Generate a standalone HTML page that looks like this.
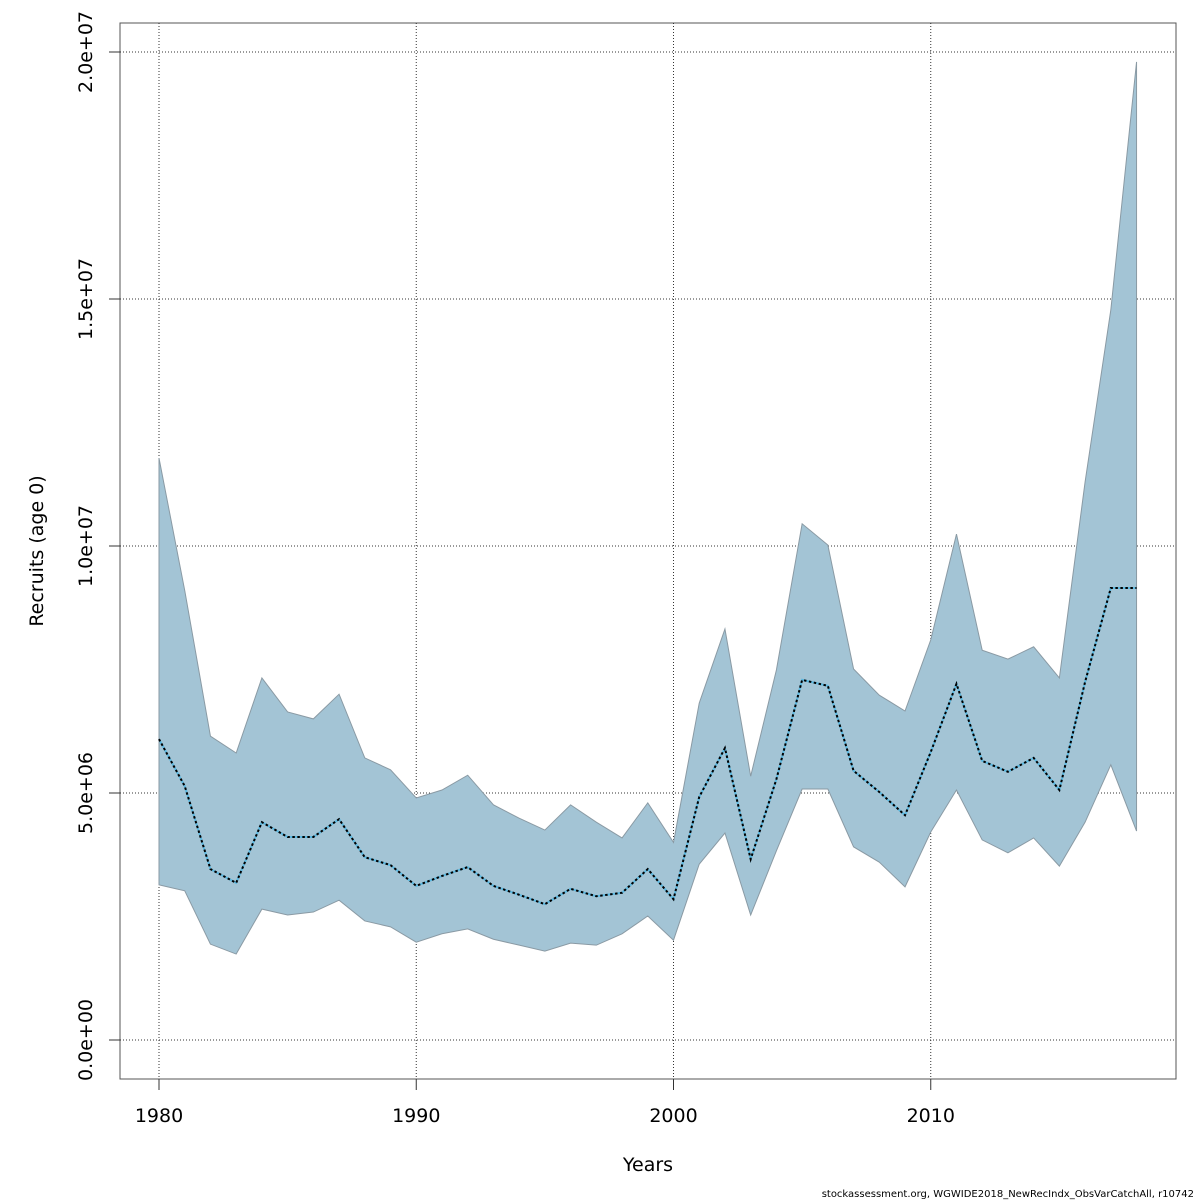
<!DOCTYPE html>
<html><head><meta charset="utf-8"><style>
body{margin:0;background:#fff;}
svg{display:block;font-family:"DejaVu Sans","Liberation Sans",sans-serif;}
</style></head><body>
<svg id="chart" width="1200" height="1200">
<rect x="120" y="23" width="1056" height="1056" fill="none" stroke="#555" stroke-width="1"/>
<g id="grid"></g>
<path id="band" fill="#a3c4d5" stroke="#8a9aa4" stroke-width="1"/>
<path id="lineBg" fill="none" stroke="#5bb8e0" stroke-width="2"/>
<path id="line" fill="none" stroke="#000" stroke-width="2" stroke-dasharray="2.5,2.5"/>
<g id="axes"></g>
<text x="648" y="1171" font-size="19" text-anchor="middle">Years</text>
<text transform="translate(43,551) rotate(-90)" font-size="19" text-anchor="middle">Recruits (age 0)</text>
<text x="1194" y="1197" font-size="10" text-anchor="end">stockassessment.org, WGWIDE2018_NewRecIndx_ObsVarCatchAll, r10742</text>
</svg>
<script>
const years=[];for(let y=1980;y<=2018;y++)years.push(y);
const upper=[11.78,9.1,6.15,5.81,7.33,6.64,6.5,7.0,5.71,5.47,4.9,5.06,5.36,4.76,4.49,4.25,4.76,4.41,4.09,4.8,4.0,6.82,8.32,5.34,7.49,10.45,10.02,7.51,6.98,6.66,8.1,10.24,7.89,7.71,7.96,7.33,11.3,14.78,19.8];
const mid=[6.09,5.14,3.46,3.18,4.41,4.11,4.11,4.47,3.7,3.54,3.12,3.32,3.5,3.12,2.94,2.75,3.06,2.91,2.98,3.46,2.85,4.92,5.91,3.66,5.28,7.29,7.17,5.45,5.02,4.55,5.83,7.21,5.65,5.43,5.71,5.06,7.25,9.15,9.15];
const lower=[3.14,3.02,1.94,1.74,2.65,2.53,2.59,2.83,2.41,2.29,1.98,2.15,2.25,2.04,1.92,1.8,1.96,1.92,2.15,2.51,2.02,3.56,4.19,2.53,3.83,5.08,5.08,3.91,3.6,3.1,4.21,5.06,4.05,3.79,4.09,3.52,4.41,5.57,4.23];
const xTicks=[1980,1990,2000,2010];
const yTicks=[0,5,10,15,20];
const yTickLabels=["0.0e+00","5.0e+06","1.0e+07","1.5e+07","2.0e+07"];
const NS="http://www.w3.org/2000/svg";
const xs=v=>159+(v-1980)*25.725;
const ys=v=>1040-v*49.4;
const grid=document.getElementById('grid'),axes=document.getElementById('axes');
function mk(tag,attrs,parent){const e=document.createElementNS(NS,tag);for(const k in attrs)e.setAttribute(k,attrs[k]);parent.appendChild(e);return e;}
xTicks.forEach(t=>{
  const g=mk('line',{x1:xs(t),x2:xs(t),y1:23,y2:1079,stroke:'#333','stroke-dasharray':'1,2'},grid);
  
  
  const k=mk('line',{x1:xs(t),x2:xs(t),y1:1079,y2:1090,stroke:'#333'},axes);
  
  
  const l=mk('text',{x:xs(t),y:1122,'font-size':19,'text-anchor':'middle'},axes);l.textContent=t;
  
  
});
yTicks.forEach((t,i)=>{
  const g=mk('line',{x1:120,x2:1176,y1:ys(t),y2:ys(t),stroke:'#333','stroke-dasharray':'1,2'},grid);
  
  
  const k=mk('line',{x1:109,x2:120,y1:ys(t),y2:ys(t),stroke:'#333'},axes);
  
  
  const l=mk('text',{transform:`translate(92,${ys(t)}) rotate(-90)`,'font-size':19,'text-anchor':'middle'},axes);l.textContent=yTickLabels[i];
  
  
});
let d='';years.forEach((y,i)=>{d+=(i?'L':'M')+xs(y)+','+ys(upper[i]);});
for(let i=years.length-1;i>=0;i--)d+='L'+xs(years[i])+','+ys(lower[i]);
document.getElementById('band').setAttribute('d',d+'Z');
let m='';years.forEach((y,i)=>{m+=(i?'L':'M')+xs(y)+','+ys(mid[i]);});
document.getElementById('line').setAttribute('d',m);
document.getElementById('lineBg').setAttribute('d',m);
</script>
</body></html>
